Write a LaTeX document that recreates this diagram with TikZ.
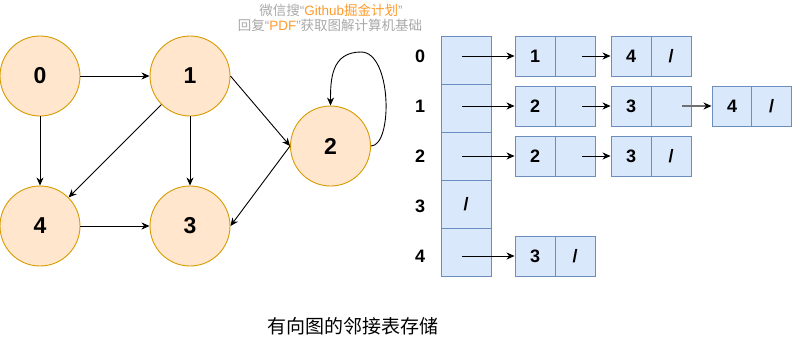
\documentclass[tikz,border=0pt]{standalone}
\usepackage{fontspec}
\setmainfont{Liberation Sans}
\newfontfamily\cjk{Noto Sans CJK SC}
\usetikzlibrary{arrows.meta}
\definecolor{circfill}{HTML}{FFE6CC}
\definecolor{circdraw}{HTML}{D79B00}
\definecolor{listfill}{HTML}{DAE8FC}
\definecolor{listdraw}{HTML}{6C8EBF}
\definecolor{wmgray}{HTML}{A8A8A8}
\definecolor{wmorange}{HTML}{FF9A2A}
\definecolor{arrgray}{HTML}{707070}
\tikzset{
  vert/.style={circle, draw=circdraw, fill=circfill, line width=0.9pt, minimum size=80pt, inner sep=0pt, font=\bfseries\fontsize{23}{23}\selectfont},
  cell/.style={rectangle, draw=listdraw, fill=listfill, line width=0.9pt, minimum width=40pt, minimum height=40pt, inner sep=0pt, font=\bfseries\fontsize{18}{18}\selectfont},
  headcell/.style={cell, minimum width=50pt, minimum height=48pt},
  rowlab/.style={font=\bfseries\fontsize{18}{18}\selectfont},
  edge/.style={-{Stealth[length=8pt,width=7pt,inset=2.5pt]}, line width=0.9pt, black},
  grayedge/.style={-{Stealth[length=8pt,width=7pt,inset=2.5pt,color=black]}, line width=1.5pt, arrgray},
}
\begin{document}
\begin{tikzpicture}[x=1pt,y=-1pt]
\useasboundingbox (0,0) rectangle (792,338);
% watermark
\node (wm1) at (331,10) {\fontsize{13.5}{14}\selectfont\color{wmgray}\cjk 微信搜\rmfamily“\color{wmorange}Github\cjk 掘金计划\color{wmgray}\rmfamily”};
\node (wm2) at (330,25) {\fontsize{13.5}{14}\selectfont\color{wmgray}\cjk 回复\rmfamily“\color{wmorange}PDF\color{wmgray}”\cjk 获取图解计算机基础};
% graph
\node[vert] (n0) at (40,76) {0};
\node[vert] (n1) at (190,76) {1};
\node[vert] (n2) at (330.5,146) {2};
\node[vert] (n4) at (40,226) {4};
\node[vert] (n3) at (190,226) {3};
\draw[edge] (n0.east) -- (n1.west);
\draw[edge] (n0.south) -- (n4.north);
\draw[edge] (n1.south) -- (n3.north);
\draw[edge] (n1.east) -- (n2.west);
\draw[edge] (n1.-135) -- (n4.45);
\draw[edge] (n2.west) -- (n3.east);
\draw[edge] (n4.east) -- (n3.west);
\draw[edge] (n2.east) .. controls (393,146) and (392,52) .. (361,52) .. controls (331,52) and (330.5,80) .. (n2.north);
% adjacency list
\foreach \i/\y in {0/60,1/108,2/156,3/204,4/252} {
  \node[headcell] (h\i) at (466,\y) {};
}
\node[font=\bfseries\fontsize{18}{18}\selectfont] at (h3.center) {/};
\node[rowlab] (l0) at (420,56) {0};
\node[rowlab] (l1) at (420,106) {1};
\node[rowlab] (l2) at (420,156) {2};
\node[rowlab] (l3) at (420,206) {3};
\node[rowlab] (l4) at (420,256) {4};
% row 0
\node[cell] (a0) at (535,56) {1};
\node[cell] (b0) at (575,56) {};
\node[cell] (c0) at (631,56) {4};
\node[cell] (d0) at (671,56) {/};
% row 1
\node[cell] (a1) at (535,106) {2};
\node[cell] (b1) at (575,106) {};
\node[cell] (c1) at (631,106) {3};
\node[cell] (d1) at (671,106) {};
\node[cell] (e1) at (732,106) {4};
\node[cell] (f1) at (771.5,106) {/};
% row 2
\node[cell] (a2) at (535,156) {2};
\node[cell] (b2) at (575,156) {};
\node[cell] (c2) at (631,156) {3};
\node[cell] (d2) at (671,156) {/};
% row 4
\node[cell] (a4) at (535,256) {3};
\node[cell] (b4) at (575,256) {/};
% pointers
\draw[edge] ([xshift=-4pt]h0.center |- a0.west) -- (a0.west);
\draw[edge] ([xshift=-4pt]h1.center |- a1.west) -- (a1.west);
\draw[edge] ([xshift=-4pt]h2.center |- a2.west) -- (a2.west);
\draw[edge] ([xshift=-4pt]h4.center |- a4.west) -- (a4.west);
\draw[edge] ([xshift=7pt]b0.center) -- (c0.west);
\draw[edge] ([xshift=7pt]b1.center) -- (c1.west);
\draw[edge] ([xshift=7pt]b2.center) -- (c2.west);
\draw[grayedge] ([xshift=11pt]d1.center) -- (e1.west);
% caption
\node (cap) at (353,326) {\cjk\fontsize{19}{19}\selectfont 有向图的邻接表存储};
\end{tikzpicture}
\end{document}
